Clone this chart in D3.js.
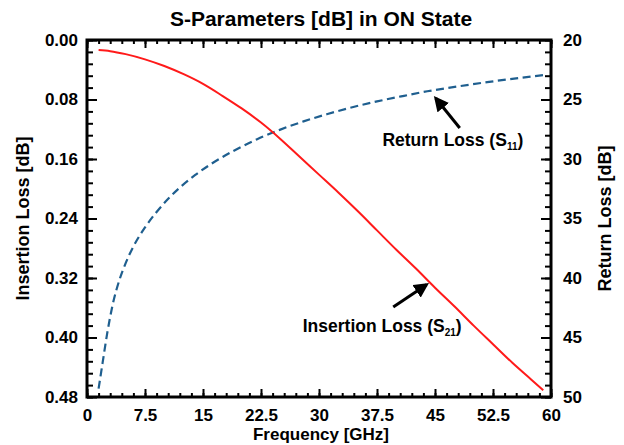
<!DOCTYPE html>
<html>
<head>
<meta charset="utf-8">
<title>S-Parameters</title>
<script src="https://d3js.org/d3.v7.min.js"></script>
<style>
  body { margin: 0; background: #fff; }
  text { font-family: "Liberation Sans", Arial, sans-serif; font-weight: bold; fill: #000; }
</style>
</head>
<body>
<div id="chart"></div>
<script>
// insertion loss (S21), left axis
var ilFreq = [1.5, 3, 5, 7.5, 10, 12.5, 15, 17.5, 20, 22.5, 25, 27.5, 30, 32.5, 35, 37.5, 40, 42.5, 45, 47.5, 50, 52.5, 55, 57.5, 59];
var ilVals = [0.0135, 0.015, 0.019, 0.026, 0.035, 0.046, 0.059, 0.075, 0.092, 0.111, 0.133, 0.157, 0.181, 0.205, 0.230, 0.256, 0.282, 0.307, 0.333, 0.358, 0.384, 0.409, 0.434, 0.457, 0.471];

// return loss (S11), right axis
var rlFreq = [1.5, 2, 2.6, 3.3, 4.2, 5, 6, 7.5, 9, 10.5, 12, 14, 16, 19, 22, 25, 28, 31, 34, 37.5, 41, 44, 48, 52, 56, 59.5];
var rlVals = [49.3, 47.2, 44.7, 42.3, 40.15, 38.75, 37.35, 35.75, 34.45, 33.35, 32.4, 31.34, 30.44, 29.3, 28.34, 27.53, 26.84, 26.24, 25.7, 25.16, 24.69, 24.31, 23.9, 23.52, 23.18, 22.92];

var xTicks = [0, 7.5, 15, 22.5, 30, 37.5, 45, 52.5, 60];
var ilTicks = [0, 0.08, 0.16, 0.24, 0.32, 0.40, 0.48];
var rlTicks = [20, 25, 30, 35, 40, 45, 50];

var margin = {top: 40, right: 73, bottom: 48, left: 87},
    W = 624, H = 445,
    width = W - margin.left - margin.right,
    height = H - margin.top - margin.bottom;

var svg = d3.select("#chart").append("svg")
    .attr("width", W).attr("height", H);
var g = svg.append("g")
    .attr("transform", "translate(" + margin.left + "," + margin.top + ")");

var x = d3.scaleLinear().domain([0, 60]).range([0, width]);
var yL = d3.scaleLinear().domain([0, 0.48]).range([0, height]);
var yR = d3.scaleLinear().domain([20, 50]).range([0, height]);

// minor ticks first (no labels)
var xMinor = d3.range(0, 61, 1.5);
var rMinor = d3.range(20, 51, 1);
g.append("g").attr("transform", "translate(0," + height + ")")
  .call(d3.axisBottom(x).tickValues(xMinor).tickSize(-4).tickFormat(""));
g.append("g")
  .call(d3.axisTop(x).tickValues(xMinor).tickSize(-4).tickFormat(""));
g.append("g")
  .call(d3.axisLeft(yR).tickValues(rMinor).tickSize(-6).tickFormat(""));
g.append("g").attr("transform", "translate(" + width + ",0)")
  .call(d3.axisRight(yR).tickValues(rMinor).tickSize(-6).tickFormat(""));

// major ticks + labels
g.append("g").attr("class", "ax").attr("transform", "translate(0," + height + ")")
  .call(d3.axisBottom(x).tickValues(xTicks).tickSize(-8).tickPadding(12)
    .tickFormat(function(d) { return d; }));
g.append("g").attr("class", "ax")
  .call(d3.axisTop(x).tickValues(xTicks).tickSize(-8).tickFormat(""));
g.append("g").attr("class", "ax")
  .call(d3.axisLeft(yL).tickValues(ilTicks).tickSize(-10).tickPadding(9)
    .tickFormat(d3.format(".2f")));
g.append("g").attr("class", "ax").attr("transform", "translate(" + width + ",0)")
  .call(d3.axisRight(yR).tickValues(rlTicks).tickSize(-10).tickPadding(12)
    .tickFormat(function(d) { return d; }));

g.selectAll(".domain").remove();
g.selectAll(".tick line").attr("stroke", "#000").attr("stroke-width", 2);
g.selectAll(".ax .tick text").style("font-size", "17px").style("font-family", "Liberation Sans, Arial, sans-serif").style("font-weight", "bold");

// frame
g.append("rect").attr("x", 0).attr("y", 0).attr("width", width).attr("height", height)
  .attr("fill", "none").attr("stroke", "#000").attr("stroke-width", 3);

// curves
var ilLine = d3.line().curve(d3.curveMonotoneX)
  .x(function(d, i) { return x(ilFreq[i]); })
  .y(function(d) { return yL(d); });
var rlLine = d3.line().curve(d3.curveMonotoneX)
  .x(function(d, i) { return x(rlFreq[i]); })
  .y(function(d) { return yR(d); });

g.append("path").datum(rlVals).attr("d", rlLine)
  .attr("fill", "none").attr("stroke", "#1f5f8f").attr("stroke-width", 2.2)
  .attr("stroke-dasharray", "8,4.5");
g.append("path").datum(ilVals).attr("d", ilLine)
  .attr("fill", "none").attr("stroke", "#ff1a1a").attr("stroke-width", 2);

// titles
svg.append("text").attr("x", 321).attr("y", 26).attr("text-anchor", "middle")
  .style("font-size", "21px").text("S-Parameters [dB] in ON State");
svg.append("text").attr("x", 321).attr("y", 440).attr("text-anchor", "middle")
  .style("font-size", "17px").text("Frequency [GHz]");
svg.append("text").attr("transform", "translate(29," + (margin.top + height / 2) + ") rotate(-90)")
  .attr("text-anchor", "middle").style("font-size", "18px").text("Insertion Loss [dB]");
svg.append("text").attr("transform", "translate(611," + (margin.top + height / 2) + ") rotate(-90)")
  .attr("text-anchor", "middle").style("font-size", "18px").text("Return Loss [dB]");

// arrows and annotation labels
var defs = svg.append("defs");
defs.append("marker").attr("id", "ah").attr("viewBox", "0 0 10 10")
  .attr("refX", 8).attr("refY", 5).attr("markerWidth", 5).attr("markerHeight", 5)
  .attr("orient", "auto")
  .append("path").attr("d", "M0,0 L10,5 L0,10 z").attr("fill", "#000");

// Return loss arrow (right axis units)
g.append("line")
  .attr("x1", x(48.2)).attr("y1", yR(27.4))
  .attr("x2", x(45.1)).attr("y2", yR(24.9))
  .attr("stroke", "#000").attr("stroke-width", 3).attr("marker-end", "url(#ah)");
var t1 = g.append("text").attr("x", x(38.2)).attr("y", yR(28.9)).style("font-size", "17.5px");
t1.append("tspan").text("Return Loss (S");
t1.append("tspan").attr("dy", 4).style("font-size", "10px").text("11");
t1.append("tspan").attr("dy", -4).text(")");

// Insertion loss arrow (left axis units)
g.append("line")
  .attr("x1", x(39.6)).attr("y1", yL(0.359))
  .attr("x2", x(43.9)).attr("y2", yL(0.329))
  .attr("stroke", "#000").attr("stroke-width", 3).attr("marker-end", "url(#ah)");
var t2 = g.append("text").attr("x", x(27.9)).attr("y", yL(0.3926)).style("font-size", "17.5px");
t2.append("tspan").text("Insertion Loss (S");
t2.append("tspan").attr("dy", 4).style("font-size", "10px").text("21");
t2.append("tspan").attr("dy", -4).text(")");
</script>
</body>
</html>
